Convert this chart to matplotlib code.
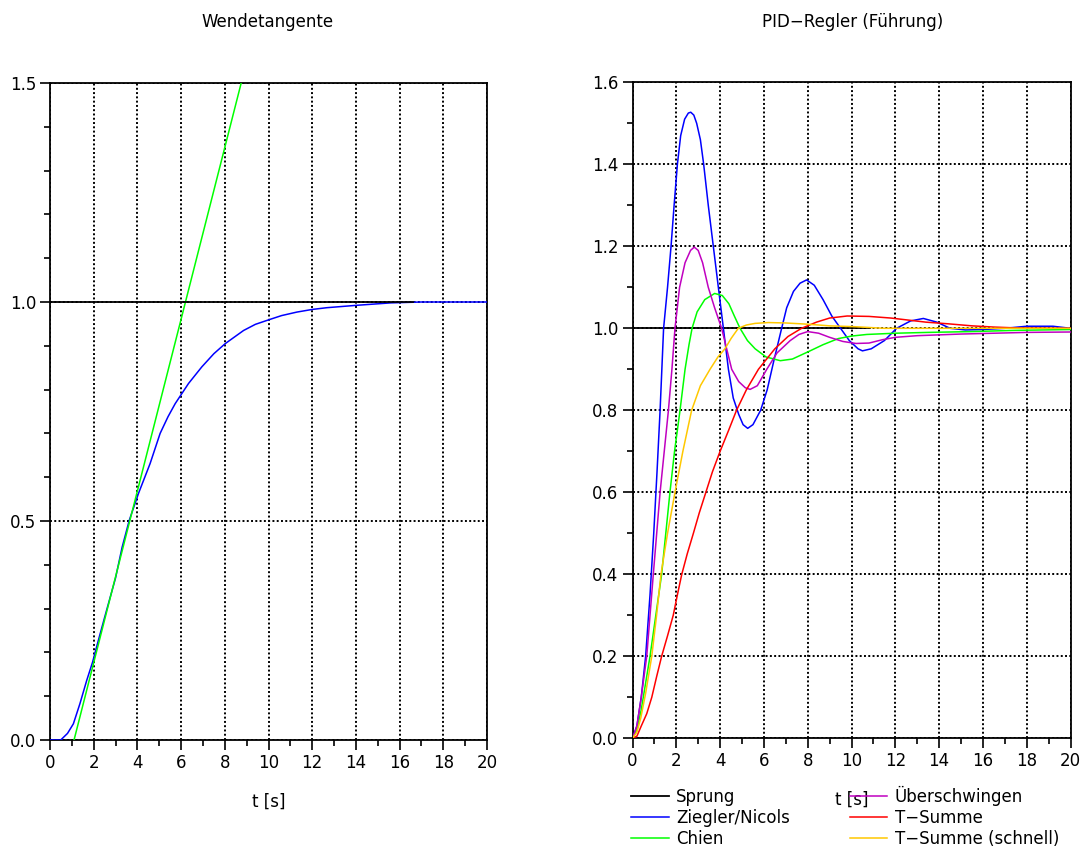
import matplotlib
matplotlib.use("Agg")
import matplotlib.pyplot as plt
from matplotlib.ticker import MultipleLocator, FormatStrFormatter

plt.rcParams['font.family'] = ['DejaVu Sans']

# ---------------- data: left plot (Wendetangente) ----------------
left_t = [0.0, 0.49, 0.8, 1.07, 1.37, 1.68, 1.95, 2.2, 2.5, 2.75, 3.0, 3.3, 3.63, 4.05,
          4.58, 5.04, 5.4, 5.73, 6.34, 6.95, 7.5, 8.02, 8.86, 9.4, 10.05, 10.6, 11.3,
          12.0, 12.67, 14.05, 15.6, 17.0, 20.0]
left_y = [0.0, 0.0, 0.015, 0.037, 0.083, 0.136, 0.178, 0.225, 0.28, 0.325, 0.37, 0.44,
          0.502, 0.563, 0.631, 0.70, 0.738, 0.768, 0.814, 0.852, 0.882, 0.905, 0.935,
          0.949, 0.960, 0.969, 0.977, 0.983, 0.987, 0.9925, 0.998, 1.0, 1.0]
tangent_t = [1.1, 8.75]
tangent_y = [0.0, 1.5]
step_left_t = [0.0, 16.6]
step_left_y = [1.0, 1.0]

# ---------------- data: right plot (PID-Regler) ----------------
sprung_t = [0.0, 10.85]
sprung_y = [1.0, 1.0]

zn_t = [0.0, 0.2, 0.4, 0.6, 0.8, 0.97, 1.12, 1.26, 1.34, 1.42, 1.6, 1.76, 1.9, 2.05, 2.2,
        2.38, 2.55, 2.66, 2.8, 2.93, 3.1, 3.25, 3.46, 3.69, 3.92, 4.15, 4.38, 4.6, 4.85,
        5.05, 5.26, 5.5, 5.85, 6.15, 6.45, 6.81, 7.04, 7.35, 7.65, 7.95, 8.3, 8.7, 9.1,
        9.5, 9.9, 10.3, 10.5, 10.9, 11.5, 12.06, 12.7, 13.28, 13.9, 14.5, 15.2, 16.0,
        17.0, 18.0, 19.2, 20.0]
zn_y = [0.0, 0.03, 0.1, 0.2, 0.35, 0.5, 0.65, 0.8, 0.9, 1.0, 1.1, 1.2, 1.3, 1.4, 1.47,
        1.51, 1.525, 1.527, 1.52, 1.5, 1.46, 1.4, 1.3, 1.2, 1.1, 1.0, 0.9, 0.83, 0.79,
        0.765, 0.756, 0.765, 0.8, 0.85, 0.92, 1.0, 1.05, 1.09, 1.11, 1.118, 1.105, 1.07,
        1.03, 1.0, 0.97, 0.95, 0.945, 0.95, 0.97, 1.0, 1.018, 1.024, 1.015, 1.0, 0.996,
        0.997, 1.0, 1.005, 1.005, 1.0]

chien_t = [0.0, 0.2, 0.4, 0.8, 1.33, 1.71, 1.92, 2.17, 2.4, 2.58, 2.72, 2.95, 3.3, 3.75,
           4.1, 4.4, 4.65, 4.91, 5.25, 5.6, 6.1, 6.75, 7.3, 8.03, 8.7, 9.4, 10.0, 10.7,
           12.0, 13.5, 15.5, 17.5, 20.0]
chien_y = [0.0, 0.02, 0.07, 0.2, 0.4, 0.6, 0.7, 0.8, 0.9, 0.96, 1.0, 1.04, 1.07, 1.085,
           1.08, 1.06, 1.03, 1.0, 0.97, 0.95, 0.93, 0.921, 0.925, 0.943, 0.96, 0.975,
           0.981, 0.985, 0.988, 0.99, 0.992, 0.995, 0.997]

ueber_t = [0.0, 0.2, 0.4, 0.65, 0.95, 1.26, 1.64, 1.8, 1.94, 2.15, 2.4, 2.65, 2.82, 3.0,
           3.2, 3.46, 3.75, 4.07, 4.3, 4.53, 4.85, 5.15, 5.37, 5.7, 6.13, 6.6, 7.2, 7.6,
           8.0, 8.5, 9.0, 9.6, 10.2, 10.8, 11.4, 12.0, 13.0, 14.0, 15.0, 16.5, 18.0, 20.0]
ueber_y = [0.0, 0.03, 0.1, 0.2, 0.4, 0.6, 0.8, 0.9, 1.0, 1.1, 1.16, 1.19, 1.198, 1.19,
           1.16, 1.1, 1.05, 1.0, 0.95, 0.9, 0.87, 0.855, 0.851, 0.86, 0.9, 0.94, 0.97,
           0.985, 0.992, 0.988, 0.978, 0.968, 0.963, 0.964, 0.972, 0.978, 0.982, 0.984,
           0.986, 0.988, 0.99, 0.991]

tsum_t = [0.0, 0.2, 0.4, 0.65, 0.88, 1.1, 1.33, 1.6, 1.86, 2.05, 2.25, 2.5, 2.78, 3.05,
          3.35, 3.65, 4.0, 4.38, 4.75, 5.2, 5.75, 6.5, 7.1, 7.72, 8.4, 9.0, 9.8, 10.8,
          11.8, 12.6, 13.4, 14.4, 15.5, 16.5, 17.5, 20.0]
tsum_y = [0.0, 0.005, 0.03, 0.06, 0.1, 0.15, 0.2, 0.25, 0.3, 0.35, 0.4, 0.45, 0.5, 0.55,
          0.6, 0.65, 0.7, 0.75, 0.8, 0.85, 0.9, 0.95, 0.98, 1.0, 1.015, 1.025, 1.03,
          1.029, 1.025, 1.02, 1.015, 1.011, 1.006, 1.003, 1.001, 1.0]

tschnell_t = [0.0, 0.2, 0.38, 0.6, 0.88, 1.1, 1.3, 1.6, 1.94, 2.3, 2.7, 3.1, 3.54, 3.9,
              4.22, 4.5, 4.83, 5.2, 5.6, 6.2, 7.0, 8.0, 9.0, 10.1, 11.5, 14.0, 20.0]
tschnell_y = [0.0, 0.015, 0.05, 0.11, 0.2, 0.3, 0.4, 0.5, 0.6, 0.7, 0.8, 0.86, 0.9, 0.93,
              0.95, 0.975, 1.0, 1.008, 1.012, 1.014, 1.013, 1.01, 1.006, 1.004, 1.0, 1.0,
              1.0]

labels = ['Sprung', 'Ziegler/Nicols', 'Chien', '\u00dcberschwingen', 'T\u2212Summe',
          'T\u2212Summe (schnell)']
colors = ['black', '#0000ff', '#00ff00', '#c000c0', '#ff0000', '#ffc800']

# ---------------- figure ----------------
W, H = 1083, 851
fig = plt.figure(figsize=(W / 100, H / 100), dpi=100)

def px_axes(x0, y0, x1, y1):
    return fig.add_axes([x0 / W, 1 - y1 / H, (x1 - x0) / W, (y1 - y0) / H])

axL = px_axes(50, 83, 487, 740)
axR = px_axes(632.5, 82.3, 1070.5, 738.3)

FS = 12

def style(ax, ymax, ymaj, ymin_step, yfmt):
    ax.set_xlim(0, 20)
    ax.set_ylim(0, ymax)
    ax.xaxis.set_major_locator(MultipleLocator(2))
    ax.xaxis.set_minor_locator(MultipleLocator(1))
    ax.yaxis.set_major_locator(MultipleLocator(ymaj))
    ax.yaxis.set_minor_locator(MultipleLocator(ymin_step))
    ax.yaxis.set_major_formatter(FormatStrFormatter(yfmt))
    ax.tick_params(which='major', direction='out', length=7, width=1.2, labelsize=FS,
                   top=False, right=False, pad=3)
    ax.tick_params(which='minor', direction='out', length=4.5, width=1.2,
                   top=False, right=False)
    for s in ax.spines.values():
        s.set_linewidth(1.3)
    ax.grid(True, which='major', color='black', linestyle=(0, (1, 1.2)), linewidth=1.4)
    ax.set_axisbelow(True)
    ax.set_xlabel('t [s]', fontsize=FS, labelpad=15)

style(axL, 1.5, 0.5, 0.1, '%.1f')
style(axR, 1.6, 0.2, 0.1, '%.1f')

# left plot
axL.plot(left_t, left_y, color='#0000ff', linewidth=1.1, zorder=3)
axL.plot(tangent_t, tangent_y, color='#00ff00', linewidth=1.1, zorder=3)
axL.plot(step_left_t, step_left_y, color='black', linewidth=1.3, zorder=4)

# right plot
series = [(sprung_t, sprung_y), (zn_t, zn_y), (chien_t, chien_y), (ueber_t, ueber_y),
          (tsum_t, tsum_y), (tschnell_t, tschnell_y)]
handles = []
for (t, y), lab, c in zip(series, labels, colors):
    h, = axR.plot(t, y, color=c, linewidth=1.3 if c == 'black' else 1.1, label=lab,
                  zorder=3)
    handles.append(h)

# titles
fig.text(268 / W, 1 - 22 / H, 'Wendetangente', ha='center', va='center', fontsize=FS)
fig.text(853 / W, 1 - 22 / H, 'PID\u2212Regler (F\u00fchrung)', ha='center', va='center',
         fontsize=FS)

# legend
fig.legend(handles, labels, ncol=2, loc='upper left',
           bbox_to_anchor=(631 / W, 1 - 786 / H), frameon=False, fontsize=FS,
           borderpad=0, borderaxespad=0, handlelength=2.25, handletextpad=0.45,
           labelspacing=0.17, columnspacing=3.6)

fig.savefig('out.png', dpi=100)
